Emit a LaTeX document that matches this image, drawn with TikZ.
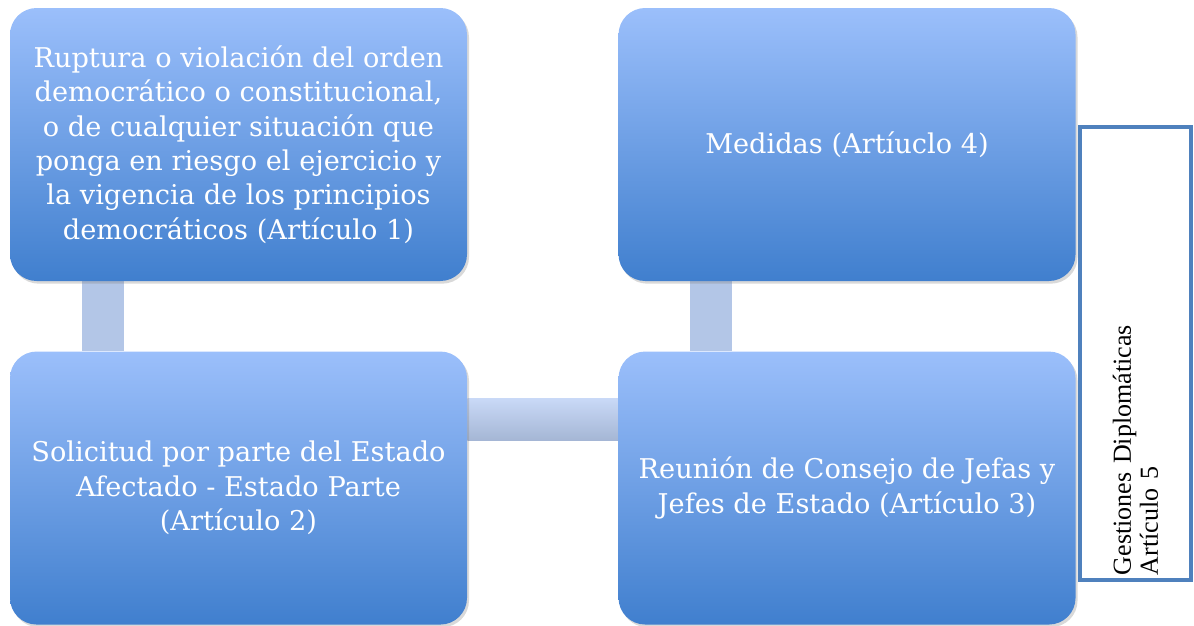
\documentclass[tikz,border=0pt]{standalone}
\usepackage{fontspec}
\setmainfont{DejaVu Serif}
\newfontfamily\timesfont{Liberation Serif}
\usepackage{tikz}
\usetikzlibrary{positioning,calc,shadows}
\pgfdeclarelayer{bg}
\pgfsetlayers{bg,main}
\definecolor{boxtop}{RGB}{155,191,251}
\definecolor{boxbot}{RGB}{64,127,206}
\definecolor{connblue}{RGB}{179,198,231}
\definecolor{connlight}{RGB}{201,217,247}
\definecolor{frameblue}{RGB}{79,129,189}

\begin{document}
\begin{tikzpicture}[x=0.75pt, y=-0.75pt,
		smbox/.style={rectangle, rounded corners=20pt, minimum width=342.75pt, minimum height=204.75pt, inner sep=0pt, top color=boxtop, bottom color=boxbot, text=white, align=center, font=\fontsize{20.4pt}{25.8pt}\selectfont, drop shadow={shadow xshift=1.5pt, shadow yshift=-2pt, opacity=0.3}},
		vconn/.style={connblue, line width=31.5pt},
		hconn/.style={top color=connlight, bottom color=connblue!92!black}]
				\useasboundingbox (0,0) rectangle (1194,625);

				\node[smbox] (rup) at (238.5,144.5) {Ruptura o violación del orden\\democrático o constitucional,\\o de cualquier situación que\\ponga en riesgo el ejercicio y\\la vigencia de los principios\\democráticos (Artículo 1)};
				\node[smbox, below=52.5pt of rup] (sol) {Solicitud por parte del Estado\\Afectado - Estado Parte\\(Artículo 2)};
				\node[smbox, right=113.25pt of sol] (reu) {Reunión de Consejo de Jefas y\\Jefes de Estado (Artículo 3)};
				\node[smbox, above=52.5pt of reu] (med) {Medidas (Artíuclo 4)};

				\node[draw=frameblue, line width=3pt, fill=white, rotate=90, minimum width=339.75pt, minimum height=83.25pt, inner xsep=3.75pt, text width=332.25pt, align=left, font=\timesfont\fontsize{19.5pt}{20.25pt}\selectfont] (ges) at (1135.5,353.5) {Gestiones Diplomáticas\\Artículo 5};

				\begin{pgfonlayer}{bg}
					\draw[vconn] ($(rup.south west)+(93,0)$) -- ($(sol.north west)+(93,0)$);
					\draw[vconn] ($(med.south west)+(93,0)$) -- ($(reu.north west)+(93,0)$);
					\path[hconn] ($(sol.north east)+(0,47)$) rectangle ($(reu.north west)+(0,89)$);
				\end{pgfonlayer}

			\end{tikzpicture}
\end{document}
